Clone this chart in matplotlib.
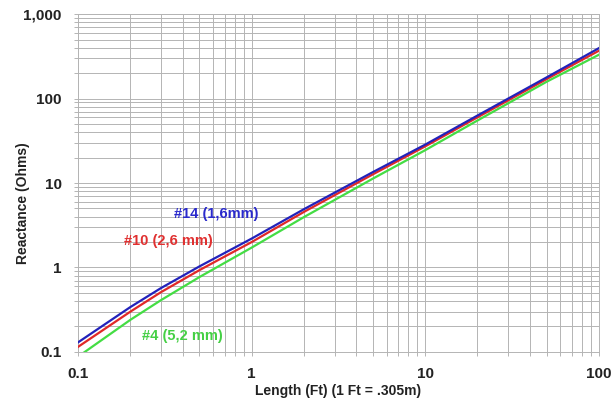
import numpy as np
import matplotlib
matplotlib.use("Agg")
import matplotlib.pyplot as plt
from matplotlib.ticker import FuncFormatter, LogLocator, NullFormatter

plt.rcParams['font.family'] = ['Liberation Sans', 'DejaVu Sans']

# length in feet
length_ft = [0.1, 0.2, 0.3, 0.5, 1, 2, 5, 10, 20, 50, 100]
# reactance in ohms
x_awg14 = [0.13, 0.34, 0.57, 1.03, 2.2, 4.9, 13.5, 28.5, 63, 178, 395]
x_awg10 = [0.115, 0.30, 0.51, 0.93, 2.0, 4.55, 12.7, 27.2, 60, 170, 368]
x_awg4 = [0.088, 0.24, 0.41, 0.77, 1.72, 3.95, 11.3, 24.5, 55, 158, 330]

labels = ["#14 (1,6mm)", "#10 (2,6 mm)", "#4 (5,2 mm)"]
line_colors = ["#2222bb", "#e02828", "#44dd44"]
text_colors = ["#2a2acc", "#e03030", "#44d044"]

fig = plt.figure(figsize=(6.11, 4.04), dpi=100)
ax = fig.add_axes([0.128, 0.129, 0.852, 0.836])

ax.plot(length_ft, x_awg4, color=line_colors[2], lw=1.6, zorder=3)
ax.plot(length_ft, x_awg10, color=line_colors[1], lw=1.6, zorder=4)
ax.plot(length_ft, x_awg14, color=line_colors[0], lw=1.6, zorder=5)

ax.set_xscale('log')
ax.set_yscale('log')
ax.set_xlim(0.1, 100)
ax.set_ylim(0.1, 1000)

ax.xaxis.set_major_locator(LogLocator(base=10, numticks=10))
ax.xaxis.set_minor_locator(LogLocator(base=10, subs=np.arange(2, 10), numticks=20))
ax.yaxis.set_major_locator(LogLocator(base=10, numticks=10))
ax.yaxis.set_minor_locator(LogLocator(base=10, subs=np.arange(2, 10), numticks=20))
ax.xaxis.set_minor_formatter(NullFormatter())
ax.yaxis.set_minor_formatter(NullFormatter())

def fmt(v, pos):
    if v < 1:
        return "%g" % v
    return "{:,.0f}".format(v)

ax.xaxis.set_major_formatter(FuncFormatter(fmt))
ax.yaxis.set_major_formatter(FuncFormatter(fmt))

ax.grid(True, which='both', color='#b4b4b4', lw=0.7)
ax.set_axisbelow(True)
for s in ax.spines.values():
    s.set_color('#b4b4b4')
    s.set_linewidth(0.7)

ax.tick_params(which='both', color='#b4b4b4', length=3, width=0.7)
ax.tick_params(axis='y', which='major', pad=9)
ax.tick_params(axis='x', which='major', pad=8)
for t in ax.get_xticklabels() + ax.get_yticklabels():
    t.set_fontweight('bold')
    t.set_fontsize(11)
    t.set_color('#222222')

ax.set_xlabel("Length (Ft) (1 Ft = .305m)", fontsize=10, fontweight='bold', labelpad=2, color='#222222')
ax.set_ylabel("Reactance (Ohms)", fontsize=10, fontweight='bold', color='#222222')
ax.yaxis.set_label_coords(-0.092, 0.44)

ax.text(0.623, 4.3, labels[0], color=text_colors[0], fontsize=10.5, fontweight='bold', ha='center', va='center')
ax.text(0.33, 2.06, labels[1], color=text_colors[1], fontsize=10.5, fontweight='bold', ha='center', va='center')
ax.text(0.397, 0.155, labels[2], color=text_colors[2], fontsize=10.5, fontweight='bold', ha='center', va='center')

fig.savefig("out.png", dpi=100, facecolor='white')
